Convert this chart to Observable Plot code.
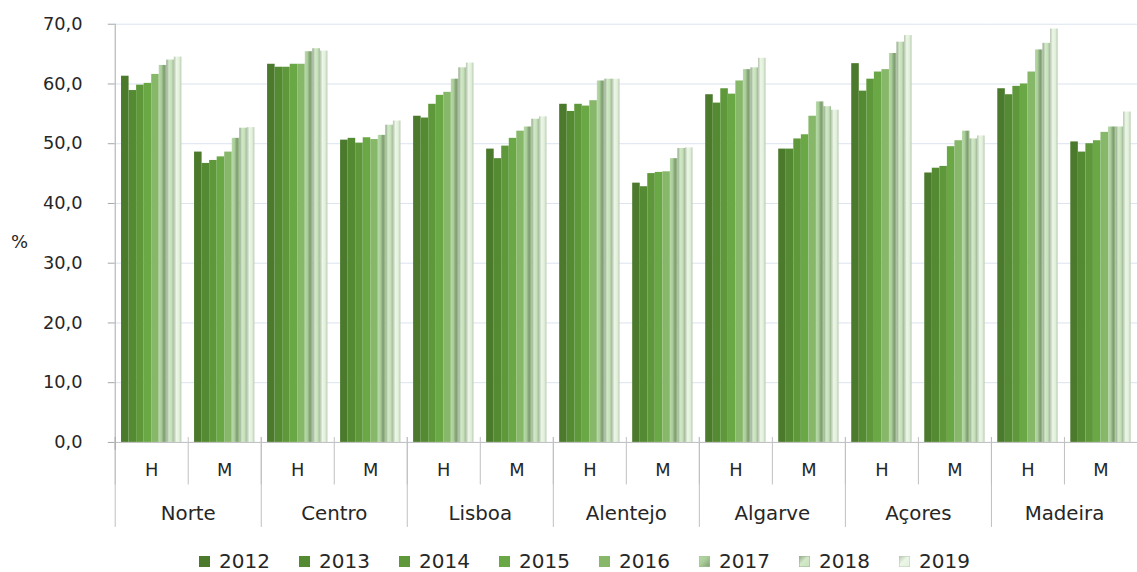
<!DOCTYPE html>
<html>
<head>
<meta charset="utf-8">
<script src="https://cdn.jsdelivr.net/npm/d3@7"></script>
<script src="https://cdn.jsdelivr.net/npm/@observablehq/plot@0.6"></script>
<style>
  html, body { margin: 0; padding: 0; background: #fff; }
  #wrap { position: relative; width: 1137px; height: 572px; overflow: hidden; background: #fff; }
  #chart { position: absolute; left: 0; top: 0; }
  #ylab { position: absolute; left: 11px; top: 231px; font: 18px "DejaVu Sans", Verdana, sans-serif; color: #262626; }
  #legend { position: absolute; left: 0; top: 550px; width: 1137px; height: 22px; font: 20px "DejaVu Sans", Verdana, sans-serif; color: #262626; }
  .item { position: absolute; top: 0; display: flex; align-items: center; height: 22px; }
  .item svg { margin-right: 9px; }
</style>
</head>
<body>
<div id="wrap">
  <div id="chart"></div>
  <div id="ylab">%</div>
  <div id="legend"></div>
</div>
<script>
// ---- data ----
const regions = ["Norte", "Centro", "Lisboa", "Alentejo", "Algarve", "Açores", "Madeira"];
const sexes = ["H", "M"];
const years = ["2012", "2013", "2014", "2015", "2016", "2017", "2018", "2019"];
const yTicks = [0, 10, 20, 30, 40, 50, 60, 70];

const norteH    = [61.3, 58.9, 59.8, 60.1, 61.6, 63.1, 64.0, 64.5];
const norteM    = [48.6, 46.7, 47.2, 47.8, 48.6, 50.9, 52.6, 52.7];
const centroH   = [63.3, 62.8, 62.8, 63.3, 63.3, 65.4, 65.9, 65.5];
const centroM   = [50.6, 50.9, 50.1, 51.0, 50.7, 51.4, 53.1, 53.8];
const lisboaH   = [54.6, 54.3, 56.6, 58.1, 58.6, 60.8, 62.7, 63.5];
const lisboaM   = [49.1, 47.5, 49.6, 50.9, 52.1, 52.8, 54.1, 54.5];
const alentejoH = [56.6, 55.4, 56.6, 56.3, 57.2, 60.5, 60.8, 60.8];
const alentejoM = [43.4, 42.8, 45.0, 45.2, 45.3, 47.5, 49.2, 49.3];
const algarveH  = [58.2, 56.8, 59.2, 58.3, 60.5, 62.4, 62.7, 64.3];
const algarveM  = [49.1, 49.1, 50.8, 51.5, 54.6, 57.0, 56.2, 55.6];
const acoresH   = [63.4, 58.8, 60.8, 62.0, 62.4, 65.1, 67.0, 68.1];
const acoresM   = [45.1, 45.9, 46.2, 49.5, 50.5, 52.1, 50.8, 51.3];
const madeiraH  = [59.2, 58.2, 59.6, 60.0, 62.0, 65.7, 66.8, 69.2];
const madeiraM  = [50.3, 48.6, 50.0, 50.5, 51.9, 52.8, 52.8, 55.3];

const seriesByRegion = {
  "Norte": [norteH, norteM],
  "Centro": [centroH, centroM],
  "Lisboa": [lisboaH, lisboaM],
  "Alentejo": [alentejoH, alentejoM],
  "Algarve": [algarveH, algarveM],
  "Açores": [acoresH, acoresM],
  "Madeira": [madeiraH, madeiraM]
};

// colours (flat for 2012-2016, shaded gradients for 2017-2019)
const baseColors = ["#4b7a2c", "#548a32", "#5e983a", "#6aa846", "#87b86a", "#a9cd98", "#c5e0b9", "#e0f0d9"];
const gradStops = {
  "2017": ["#b9d9aa", "#a9cd98", "#7d9a70", "#a3c592"],
  "2018": ["#8fa587", "#d3e9c9", "#c5e0b9", "#9fb697"],
  "2019": ["#b5c4ae", "#ecf7e7", "#e0f0d9", "#bccab6"]
};
const fills = years.map((y, i) => gradStops[y] ? `url(#g${y})` : baseColors[i]);

// ---- build table ----
const rows = [];
const groups = [];
for (const r of regions) {
  sexes.forEach((s, si) => {
    const key = r + "|" + s;
    groups.push({key, region: r, sex: s});
    seriesByRegion[r][si].forEach((v, i) => rows.push({key, region: r, sex: s, year: years[i], value: v}));
  });
}
const keys = groups.map(d => d.key);
const groupsH = groups.filter(d => d.sex === "H");

// ---- layout ----
const W = 1150, H = 535, ML = 116, MR = 0, MT = 24, MB = 88;
const step = (W - ML - MR) / keys.length;
const plotH = H - MT - MB - 5;
const fmt = d => d.toFixed(1).replace(".", ",");

const marks = [
  Plot.ruleY(yTicks, {y: d => d, stroke: "#dbe3ef", strokeWidth: 1}),
  Plot.barY(rows, {fx: "key", x: "year", y: "value", fill: "year"}),
  Plot.ruleY([0], {stroke: "#bfbfbf", strokeWidth: 1}),
  // short dividers between H and M (and all groups) below the axis
  Plot.ruleX(groups, {fx: "key", x: null, dx: -step / 2, insetTop: plotH - 43, dy: 43, stroke: "#bfbfbf"}),
  // long dividers between regions
  Plot.ruleX(groupsH, {fx: "key", x: null, dx: -step / 2, insetTop: plotH - 86, dy: 86, stroke: "#bfbfbf"}),
  // y axis line
  Plot.ruleX([groups[0]], {fx: "key", x: null, dx: -step / 2, insetBottom: -8, stroke: "#a6a6a6"}),
  Plot.text(groups, {fx: "key", text: "sex", frameAnchor: "bottom", lineAnchor: "middle", dy: 28, fontSize: 18, fill: "#262626"}),
  Plot.text(groupsH, {fx: "key", text: "region", frameAnchor: "bottom", lineAnchor: "middle", dx: step / 2, dy: 72, fontSize: 20, fill: "#262626"})
];
if (Plot.axisY) {
  marks.unshift(Plot.axisY(yTicks, {tickFormat: fmt, tickSize: 7, tickPadding: 26, stroke: "#a6a6a6", fill: "#262626", fontSize: 18, label: null}));
}

const chart = Plot.plot({
  width: W, height: H,
  marginLeft: ML, marginRight: MR, marginTop: MT, marginBottom: MB,
  style: {fontFamily: "'DejaVu Sans', Verdana, sans-serif", fontSize: "18px", color: "#262626", background: "transparent", overflow: "visible"},
  fx: {domain: keys, padding: 0, axis: null, round: false, label: null},
  x: {domain: years, paddingInner: 0, paddingOuter: 0.84, axis: null, round: false},
  y: Plot.axisY ? {domain: [0, 70], axis: null} : {domain: [0, 70], ticks: yTicks, tickFormat: fmt, tickSize: 7, tickPadding: 26, label: null},
  color: {domain: years, range: fills},
  marks
});

// gradients for shaded bars
const svg = d3.select(chart.tagName.toLowerCase() === "svg" ? chart : chart.querySelector("svg"));
const defs = svg.insert("defs", ":first-child");
for (const y of Object.keys(gradStops)) {
  const g = defs.append("linearGradient").attr("id", "g" + y).attr("x1", 0).attr("x2", 1).attr("y1", 0).attr("y2", 0);
  const st = gradStops[y];
  [[0, st[0]], [0.35, st[1]], [0.7, st[2]], [1, st[3]]].forEach(([o, c]) => g.append("stop").attr("offset", o).attr("stop-color", c));
}
document.getElementById("chart").appendChild(chart);

// legend
const legend = d3.select("#legend");
years.forEach((y, i) => {
  const item = legend.append("div").attr("class", "item").style("left", (199 + i * 100) + "px");
  const s = item.append("svg").attr("width", 11).attr("height", 11);
  if (gradStops[y]) {
    const g = s.append("defs").append("linearGradient").attr("id", "lg" + y).attr("x1", 0).attr("x2", 1).attr("y1", 0).attr("y2", 1);
    const st = gradStops[y];
    [[0, st[0]], [0.45, st[1]], [1, st[2]]].forEach(([o, c]) => g.append("stop").attr("offset", o).attr("stop-color", c));
    s.append("rect").attr("width", 11).attr("height", 11).attr("fill", `url(#lg${y})`).attr("stroke", st[3]).attr("stroke-width", 1);
  } else {
    s.append("rect").attr("width", 11).attr("height", 11).attr("fill", baseColors[i]);
  }
  item.append("span").text(y);
});
</script>
</body>
</html>
